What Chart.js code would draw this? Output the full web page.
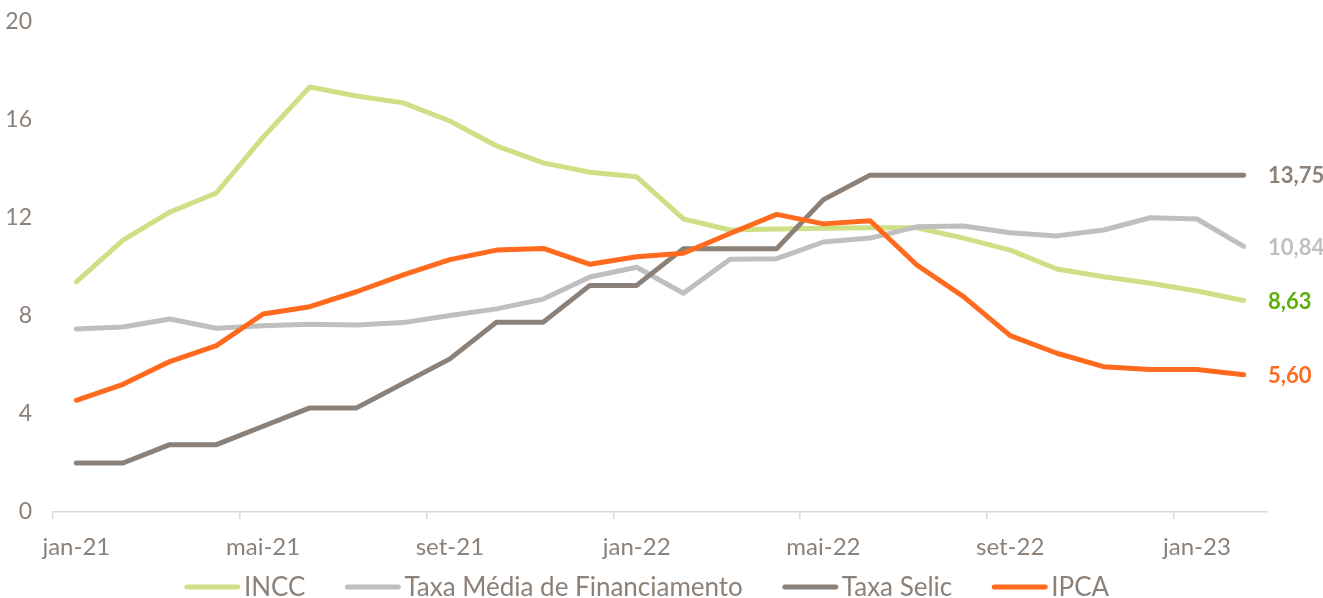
<!DOCTYPE html>
<html>
<head>
<meta charset="utf-8">
<script src="https://cdn.jsdelivr.net/npm/chart.js@4.4.0/dist/chart.umd.min.js"></script>
<style>
  html, body { margin: 0; padding: 0; background: #fff; }
  #wrap { width: 1323px; height: 598px; }
</style>
</head>
<body>
<div id="wrap"><canvas id="chart" width="1323" height="598"></canvas></div>
<script>
const meses = ["jan-21","fev-21","mar-21","abr-21","mai-21","jun-21","jul-21","ago-21","set-21","out-21","nov-21","dez-21",
  "jan-22","fev-22","mar-22","abr-22","mai-22","jun-22","jul-22","ago-22","set-22","out-22","nov-22","dez-22",
  "jan-23","fev-23"];

const incc = [9.39, 11.10, 12.24, 13.02, 15.30, 17.35, 16.98, 16.70, 15.96, 14.94, 14.25, 13.87,
  13.68, 11.96, 11.51, 11.55, 11.58, 11.60, 11.60, 11.18, 10.69, 9.92, 9.60, 9.34, 9.02, 8.63];
const taxaMedia = [7.47, 7.55, 7.88, 7.50, 7.60, 7.66, 7.63, 7.73, 8.02, 8.29, 8.69, 9.59,
  9.99, 8.93, 10.32, 10.34, 11.02, 11.18, 11.64, 11.67, 11.40, 11.27, 11.51, 12.01, 11.96, 10.84];
const selic = [2.00, 2.00, 2.75, 2.75, 3.50, 4.25, 4.25, 5.25, 6.25, 7.75, 7.75, 9.25,
  9.25, 10.75, 10.75, 10.75, 12.75, 13.75, 13.75, 13.75, 13.75, 13.75, 13.75, 13.75, 13.75, 13.75];
const ipca = [4.56, 5.21, 6.14, 6.79, 8.08, 8.38, 8.99, 9.68, 10.30, 10.69, 10.76, 10.11,
  10.42, 10.56, 11.37, 12.15, 11.76, 11.89, 10.08, 8.79, 7.20, 6.48, 5.93, 5.82, 5.82, 5.60];

const yTicks = [0, 4, 8, 12, 16, 20];

const cinza = "#8C8179";
const fonte = "Lato, 'Open Sans', sans-serif";

// rótulo do último valor à direita de cada linha
const rotulosFinais = {
  id: "rotulosFinais",
  afterDatasetsDraw(chart) {
    const ctx = chart.ctx;
    const y = chart.scales.y;
    const cores = ["#5DAE0B", "#BFBFBF", "#8C8179", "#FF6A1F"];
    ctx.save();
    ctx.font = "bold 22px " + fonte;
    ctx.textAlign = "left";
    ctx.textBaseline = "middle";
    chart.data.datasets.forEach((ds, i) => {
      const v = ds.data[ds.data.length - 1];
      ctx.fillStyle = cores[i];
      ctx.fillText(v.toFixed(2).replace(".", ","), chart.chartArea.right + 1, y.getPixelForValue(v) + 1);
    });
    ctx.restore();
  }
};

// legenda desenhada à mão (espaçamento igual ao original)
const legenda = {
  id: "legenda",
  afterDraw(chart) {
    const ctx = chart.ctx;
    const sets = chart.data.datasets;
    ctx.save();
    ctx.font = "26px " + fonte;
    ctx.textBaseline = "middle";
    ctx.textAlign = "left";
    const larg = sets.map(ds => 55 + 4 + ctx.measureText(ds.label).width);
    const total = larg.reduce((a, b) => a + b, 0) + 40 * (sets.length - 1);
    let x = 647 - total / 2;
    const yy = 587;
    sets.forEach((ds, i) => {
      ctx.strokeStyle = ds.borderColor;
      ctx.lineWidth = 5;
      ctx.lineCap = "round";
      ctx.beginPath();
      ctx.moveTo(x + 2, yy);
      ctx.lineTo(x + 53, yy);
      ctx.stroke();
      ctx.fillStyle = cinza;
      ctx.fillText(ds.label, x + 59, yy + 1);
      x += larg[i] + 40;
    });
    ctx.restore();
  }
};

function serie(label, data, cor, ordem) {
  return {
    label: label,
    data: data,
    borderColor: cor,
    backgroundColor: cor,
    borderWidth: 5,
    borderCapStyle: "round",
    borderJoinStyle: "round",
    pointRadius: 0,
    pointHoverRadius: 0,
    tension: 0,
    order: ordem
  };
}

new Chart(document.getElementById("chart"), {
  type: "line",
  data: {
    labels: meses,
    datasets: [
      serie("INCC", incc, "#CDE085", 4),
      serie("Taxa Média de Financiamento", taxaMedia, "#BFBFBF", 3),
      serie("Taxa Selic", selic, "#8C8179", 2),
      serie("IPCA", ipca, "#FF6A1F", 1)
    ]
  },
  options: {
    responsive: false,
    animation: false,
    layout: { padding: { left: 0, right: 56, top: 22, bottom: 0 } },
    plugins: {
      tooltip: { enabled: false },
      legend: { display: false }
    },
    scales: {
      x: {
        offset: true,
        afterFit: s => { s.height = 86; },
        grid: {
          offset: true,
          drawOnChartArea: false,
          drawTicks: true,
          tickLength: 7,
          color: ctx => (ctx.index % 4 === 0 ? "#D9D9D9" : "rgba(0,0,0,0)"),
          lineWidth: 1.5
        },
        border: { display: true, color: "#D9D9D9", width: 1.5 },
        ticks: {
          autoSkip: false,
          maxRotation: 0,
          padding: 14,
          color: cinza,
          font: { family: fonte, size: 24 },
          callback: function (val, i) { return i % 4 === 0 ? meses[i] : ""; }
        }
      },
      y: {
        min: 0,
        max: 20,
        afterFit: s => { s.width = 53; s.paddingTop = 0; s.paddingBottom = 0; },
        afterBuildTicks: s => { s.ticks = yTicks.map(v => ({ value: v })); },
        grid: { display: false, drawTicks: false },
        border: { display: false },
        ticks: {
          padding: 21,
          color: cinza,
          font: { family: fonte, size: 23 }
        }
      }
    }
  },
  plugins: [rotulosFinais, legenda]
});
</script>
</body>
</html>
